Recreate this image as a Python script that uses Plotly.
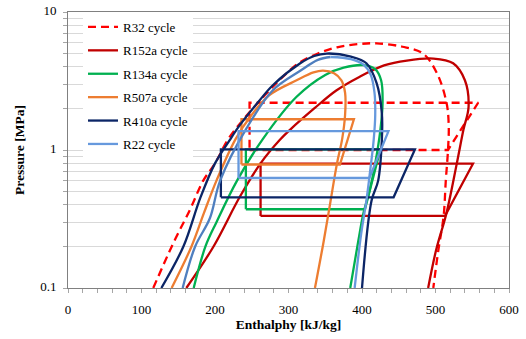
import plotly.graph_objects as go

# ---------------- data (enthalpy kJ/kg, pressure MPa) ----------------
names = ["R32 cycle", "R152a cycle", "R134a cycle", "R507a cycle", "R410a cycle", "R22 cycle"]

# saturation domes: liquid line (bottom -> critical point) then vapour line (-> bottom)
r32_dome_h = [116, 143, 166, 184, 200, 218, 240, 268, 290, 315, 340, 366, 395, 420,
              455, 483, 502, 515, 518, 517, 514, 511, 504, 497]
r32_dome_p = [0.1, 0.21, 0.37, 0.6, 0.8, 1.2, 1.7, 2.5, 3.3, 4.3, 5.0, 5.55, 5.85, 5.93,
              5.6, 5.0, 3.6, 2.2, 1.5, 1.0, 0.6, 0.33, 0.19, 0.1]

r152a_dome_h = [161, 198, 234, 262, 288, 302, 335, 365, 397, 430, 461, 497,
                524, 540, 545, 538, 529, 515, 501, 490]
r152a_dome_p = [0.1, 0.2, 0.46, 0.8, 1.18, 1.4, 2.0, 2.7, 3.4, 4.1, 4.45, 4.6,
                4.25, 3.2, 2.06, 1.4, 0.8, 0.35, 0.19, 0.1]

r134a_dome_h = [171, 187, 202, 230, 265, 311, 350, 375, 402,
                418, 426, 428, 425, 418, 410, 402, 395, 384]
r134a_dome_p = [0.1, 0.2, 0.3, 0.6, 1.2, 2.43, 3.5, 3.95, 4.12,
                3.85, 3.2, 2.2, 1.4, 0.8, 0.5, 0.35, 0.22, 0.1]

r507a_dome_h = [141, 168, 185, 202, 228, 250, 274, 311, 334, 347,
                362, 372, 377, 377, 373, 366, 357, 348, 336]
r507a_dome_p = [0.1, 0.2, 0.35, 0.6, 1.2, 1.8, 2.5, 3.2, 3.65, 3.76,
                3.6, 3.2, 2.6, 1.8, 1.2, 0.8, 0.42, 0.22, 0.1]

r410a_dome_h = [127, 157, 180, 200, 220, 234, 258, 279, 316, 335, 352,
                385, 406, 420, 427, 427, 422, 413, 400]
r410a_dome_p = [0.1, 0.2, 0.45, 0.8, 1.18, 1.52, 2.2, 2.96, 4.25, 4.8, 5.0,
                4.75, 4.25, 3.04, 1.85, 1.18, 0.6, 0.43, 0.1]

r22_liq_h = [156, 173, 193, 207, 243, 279, 316, 340, 357]
r22_liq_p = [0.1, 0.2, 0.32, 0.6, 1.44, 2.72, 3.75, 4.5, 4.72]
r22_vap_h = [357, 385, 402, 412, 417, 418, 416, 411, 406, 399, 390]
r22_vap_p = [4.72, 4.55, 4.15, 3.5, 2.6, 1.8, 1.2, 0.7, 0.43, 0.25, 0.1]

# refrigeration cycles
r32_cycle_h = [247, 517, 558, 247, 247]
r32_cycle_p = [1.0, 1.0, 2.2, 2.2, 1.0]
r152a_cycle_h = [262, 513, 551, 262, 262]
r152a_cycle_p = [0.333, 0.333, 0.796, 0.796, 0.333]
r134a_cycle_h = [242, 404, 425, 242, 242]
r134a_cycle_p = [0.372, 0.372, 1.01, 1.01, 0.372]
r507a_cycle_h = [236, 370, 389, 236, 236]
r507a_cycle_p = [0.785, 0.785, 1.67, 1.67, 0.785]
r410a_cycle_h = [208, 443, 472, 208, 208]
r410a_cycle_p = [0.454, 0.454, 1.01, 1.01, 0.454]
r22_cycle_h = [232, 410, 436, 232, 232]
r22_cycle_p = [0.627, 0.627, 1.37, 1.37, 0.627]

y_tickvals = [0.1, 0.2, 0.3, 0.4, 0.5, 0.6, 0.7, 0.8, 0.9,
              1, 2, 3, 4, 5, 6, 7, 8, 9, 10]
y_ticktext = ["0.1", "", "", "", "", "", "", "", "",
              "1", "", "", "", "", "", "", "", "", "10"]
x_tickvals = list(range(0, 601, 20))
x_ticktext = [str(v) if v % 100 == 0 else "" for v in x_tickvals]

# ---------------- styling ----------------
colors = {"R32": "#FF0000", "R152a": "#C00000", "R134a": "#00B050",
          "R507a": "#ED7D31", "R410a": "#0B2566", "R22": "#6699DD"}
r22_liq_color = "#4F7FBF"
LW = 2.3
FONT = "Liberation Serif"

fig = go.Figure()

def add_dome(h, p, color, group, dash="solid"):
    fig.add_trace(go.Scatter(x=h, y=p, mode="lines", showlegend=False, legendgroup=group,
                             line=dict(color=color, width=LW, dash=dash, shape="spline",
                                       smoothing=1.0), hoverinfo="skip"))

def add_cycle(h, p, color, name, group, dash="solid"):
    fig.add_trace(go.Scatter(x=h, y=p, mode="lines", name=name, legendgroup=group,
                             line=dict(color=color, width=LW, dash=dash)))

add_dome(r32_dome_h, r32_dome_p, colors["R32"], "R32", dash="8px,5px")
add_cycle(r32_cycle_h, r32_cycle_p, colors["R32"], names[0], "R32", dash="8px,5px")
add_dome(r152a_dome_h, r152a_dome_p, colors["R152a"], "R152a")
add_cycle(r152a_cycle_h, r152a_cycle_p, colors["R152a"], names[1], "R152a")
add_dome(r134a_dome_h, r134a_dome_p, colors["R134a"], "R134a")
add_cycle(r134a_cycle_h, r134a_cycle_p, colors["R134a"], names[2], "R134a")
add_dome(r507a_dome_h, r507a_dome_p, colors["R507a"], "R507a")
add_cycle(r507a_cycle_h, r507a_cycle_p, colors["R507a"], names[3], "R507a")
add_dome(r410a_dome_h, r410a_dome_p, colors["R410a"], "R410a")
add_cycle(r410a_cycle_h, r410a_cycle_p, colors["R410a"], names[4], "R410a")
add_dome(r22_liq_h, r22_liq_p, r22_liq_color, "R22")
add_dome(r22_vap_h, r22_vap_p, colors["R22"], "R22")
add_cycle(r22_cycle_h, r22_cycle_p, colors["R22"], names[5], "R22")

fig.update_layout(
    width=526, height=339,
    margin=dict(l=68, r=17, t=12, b=51, autoexpand=False),
    paper_bgcolor="white", plot_bgcolor="white",
    font=dict(family=FONT, size=13, color="black"),
    showlegend=True,
    legend=dict(x=0.034, y=1.0, xanchor="left", yanchor="top",
                bgcolor="white", borderwidth=0, itemwidth=30,
                traceorder="grouped", tracegroupgap=3.5,
                font=dict(family=FONT, size=13, color="black")),
    xaxis=dict(range=[0, 600], tickvals=x_tickvals, ticktext=x_ticktext,
               ticks="outside", ticklen=4, tickcolor="#A6A6A6", automargin=False,
               ticklabeloverflow="allow", ticklabelstandoff=5,
               showgrid=False, zeroline=False,
               showline=True, linecolor="#808080", linewidth=1, mirror=True,
               title=dict(text="<b>Enthalphy [kJ/kg]</b>", standoff=3,
                          font=dict(family=FONT, size=13.5, color="black")),
               tickfont=dict(family=FONT, size=13, color="black")),
    yaxis=dict(type="log", range=[-1, 1], tickvals=y_tickvals, ticktext=y_ticktext,
               ticks="outside", ticklen=4, tickcolor="#A6A6A6", automargin=False,
               ticklabeloverflow="allow", ticklabelshift=-2, ticklabelstandoff=4,
               showgrid=True, gridcolor="#D9D9D9", gridwidth=1, zeroline=False,
               showline=True, linecolor="#808080", linewidth=1, mirror=True,
               title=dict(text="<b>Pressure [MPa]</b>", standoff=12,
                          font=dict(family=FONT, size=13.5, color="black")),
               tickfont=dict(family=FONT, size=13, color="black")),
)

# remove the page's default 8px body margin so the figure fills the window exactly
fig.write_html("out.html", config={"displayModeBar": False},
               post_script="document.body.style.margin='0';")
